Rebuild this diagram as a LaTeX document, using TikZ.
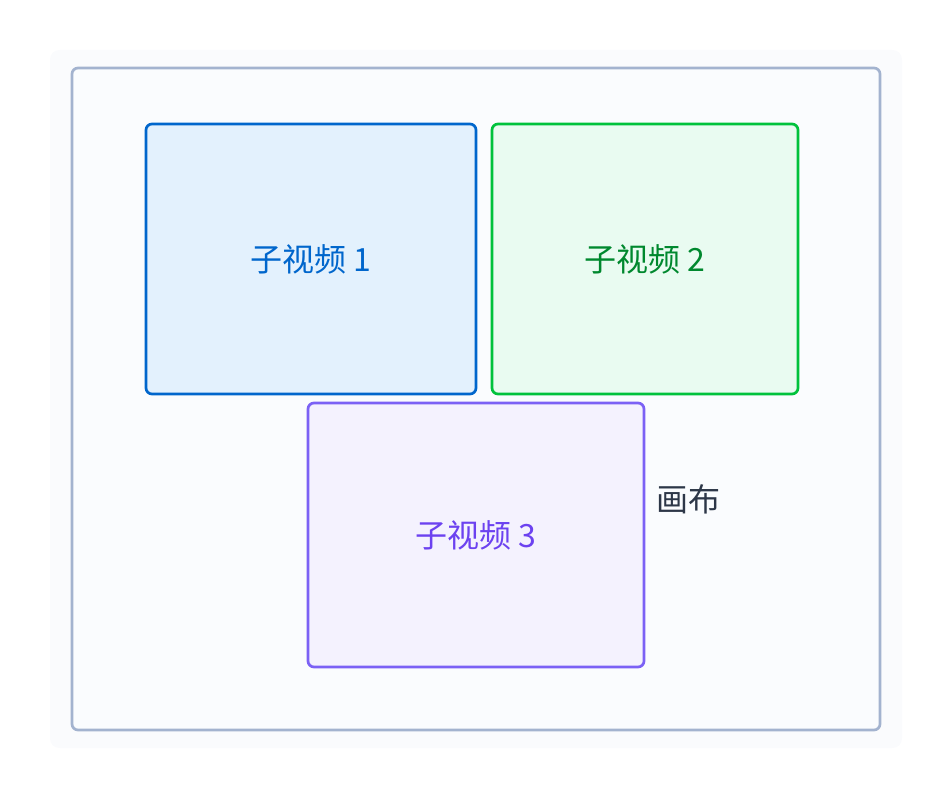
\documentclass[tikz,border=0pt]{standalone}
\usepackage{fontspec}
\setmainfont{Noto Sans CJK SC}
\usepackage{tikz}
\usetikzlibrary{positioning}

\definecolor{pagebg}{HTML}{FAFBFD}
\definecolor{canvasline}{HTML}{A3B3CF}
\definecolor{canvasfill}{HTML}{FAFCFE}
\definecolor{oneline}{HTML}{0066CC}
\definecolor{onefill}{HTML}{E3F1FD}
\definecolor{onetext}{HTML}{0066CC}
\definecolor{twoline}{HTML}{00C23C}
\definecolor{twofill}{HTML}{E9FBF1}
\definecolor{twotext}{HTML}{00882E}
\definecolor{threeline}{HTML}{7B61F5}
\definecolor{threefill}{HTML}{F4F2FE}
\definecolor{threetext}{HTML}{6C42F0}
\definecolor{labeltext}{HTML}{2D3748}

\begin{document}
\begin{tikzpicture}[x=0.75pt,y=-0.75pt,
    canvas/.style={draw=canvasline,fill=canvasfill,line width=2pt,
      rounded corners=4.5pt,inner sep=0pt},
    subview/.style={line width=2pt,rounded corners=4.5pt,inner sep=0pt,
      font=\fontsize{24}{28}\selectfont}]
    \useasboundingbox (0,0) rectangle (952,798);
    \fill[pagebg,rounded corners=7pt] (50,50) rectangle (902,748);
    \node (c) [canvas, minimum width=606pt, minimum height=496.5pt] at (476,399) {};
    \node (v1) [subview, draw=oneline, fill=onefill, text=onetext,
      minimum width=247.5pt, minimum height=202.5pt] at (311,259) {子视频 1};
    \node (v2) [subview, draw=twoline, fill=twofill, text=twotext,
      minimum width=229.5pt, minimum height=202.5pt] at (645,259) {子视频 2};
    \node (v3) [subview, draw=threeline, fill=threefill, text=threetext,
      minimum width=252pt, minimum height=198pt] at (476,535) {子视频 3};
    \node (cl) [right=8pt of v3.east, yshift=27pt, text=labeltext,
      font=\fontsize{24}{28}\selectfont, inner sep=0pt] {画布};
  \end{tikzpicture}
\end{document}
